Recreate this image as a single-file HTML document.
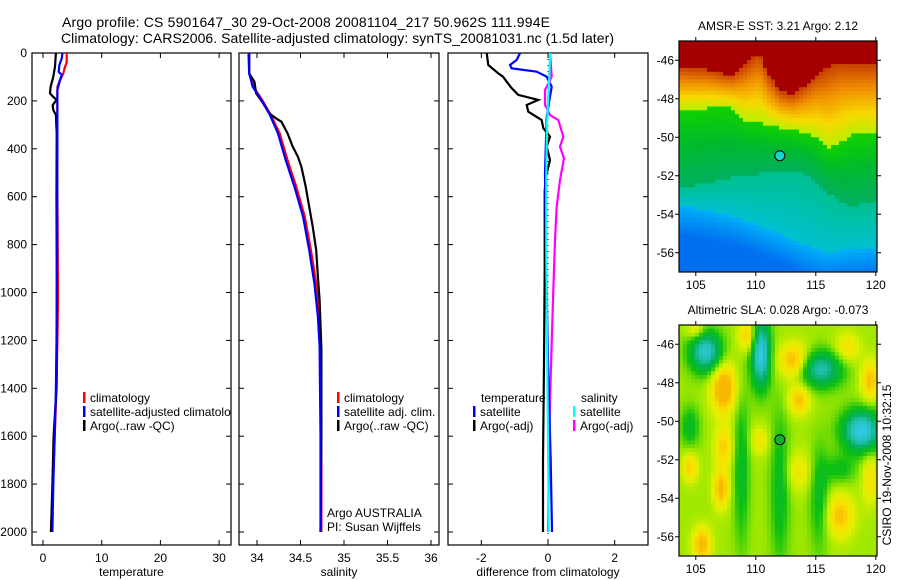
<!DOCTYPE html>
<html><head><meta charset="utf-8"><title>Argo profile</title>
<style>
html,body{margin:0;padding:0;background:#fff;}
svg{display:block;font-family:"Liberation Sans",Arial,sans-serif;}
</style></head>
<body>
<svg id="fig" width="900" height="580" viewBox="0 0 900 580" xmlns="http://www.w3.org/2000/svg">
<rect x="0" y="0" width="900" height="580" fill="#fff"/>
<text x="62" y="27" font-size="14" textLength="488">Argo profile: CS 5901647_30 29-Oct-2008 20081104_217 50.962S 111.994E</text>
<text x="61" y="43" font-size="14" textLength="553">Climatology: CARS2006. Satellite-adjusted climatology: synTS_20081031.nc (1.5d later)</text>
<g id="layer"></g>
</svg>
<script>
// ---------- DATA ----------
const tClimDepth = [0,40,57,85,113,141,200,400,800,1031,1200,1400,1600,1800,2000];
const tClimVal   = [4.03,4.03,3.75,3.46,2.9,2.45,2.45,2.4,2.5,2.55,2.45,2.3,2.0,1.7,1.35];
const tSatDepth  = [0,22,50,78,92,113,155,400,800,1200,1400,1600,1800,2000];
const tSatVal    = [3.3,3.2,2.8,2.67,3.2,2.9,2.45,2.45,2.4,2.3,2.2,2.0,1.75,1.6];
const tArgoDepth = [0,57,99,141,168,181,196,217,238,259,335,600,1000,1400,1600,1800,2000];
const tArgoVal   = [2.2,2.05,1.75,1.3,1.2,1.65,2.33,1.65,1.75,2.2,2.33,2.3,2.35,2.3,1.8,1.6,1.36];
const sArgoDepth = [0,85,120,168,210,252,273,287,335,391,433,475,558,642,725,823,934,1031,1240,1600,2000];
const sArgoVal   = [33.91,33.91,33.97,33.99,34.07,34.14,34.22,34.28,34.35,34.41,34.47,34.51,34.56,34.60,34.64,34.68,34.70,34.72,34.74,34.74,34.73];
const sSatDepth  = [0,85,141,196,252,335,447,558,684,823,962,1101,1226,1600,2000];
const sSatVal    = [33.91,33.91,33.95,34.05,34.14,34.24,34.33,34.43,34.53,34.60,34.66,34.70,34.72,34.73,34.73];
const sClimDepth = [0,85,141,196,252,335,447,558,684,823,962,1101,1226,1600,2000];
const sClimVal   = [33.90,33.91,33.96,34.06,34.15,34.26,34.35,34.45,34.55,34.62,34.68,34.71,34.73,34.74,34.74];
const dTArgoDepth = [0,50,85,99,120,147,175,196,217,245,280,314,349,391,447,503,573,900,1300,1700,2000];
const dTArgoVal   = [-1.84,-1.79,-1.49,-1.35,-1.24,-1.09,-0.89,-0.29,-0.64,-0.59,-0.19,-0.14,0.06,-0.04,0.06,-0.04,-0.1,-0.1,-0.12,-0.15,-0.15];
const dTSatDepth  = [0,29,50,64,78,99,141,182,266,503,900,1300,1700,2000];
const dTSatVal    = [-0.84,-0.94,-1.14,-1.09,-0.34,-0.04,0.11,0.06,-0.04,-0.09,-0.05,0.0,0.08,0.12];
const dSArgoDepth = [0,99,155,217,259,280,349,391,440,530,642,781,1031,1449,1800,2000];
const dSArgoVal   = [0.06,0.11,-0.09,-0.09,0.06,0.31,0.46,0.36,0.48,0.36,0.26,0.21,0.15,0.06,0.02,0.0];
const dSSatDepth  = [0,100,200,300,500,800,1200,1600,2000];
const dSSatVal    = [0.06,0.04,0.0,-0.03,-0.05,-0.05,-0.03,0.0,0.02];
const depthTicks = [0,200,400,600,800,1000,1200,1400,1600,1800,2000];
const tempTicks = [0,10,20,30];
const salTicks = [34,34.5,35,35.5,36];
const salTickLabels = ["34","34.5","35","35.5","36"];
const diffTicks = [-2,0,2];
const frontLon   = [104,106,108,109,110.3,111,112,113,114,115,116,117,118,120];
const redFront   = [46.4,46.5,46.8,46.3,45.6,46.7,47.6,47.8,47.4,46.8,46.4,46.1,46.2,46.2];
const greenFront = [48.6,48.5,48.5,49.1,49.2,49.4,49.5,49.6,49.8,50.0,50.6,50.3,49.9,49.8];
const tealFront  = [52.6,52.4,52.1,52.0,51.9,51.8,51.8,51.8,51.9,52.3,52.9,53.3,53.6,53.3];
const blueFront  = [53.6,53.8,54.1,54.3,54.6,54.8,55.0,55.3,55.6,55.8,56.0,55.9,55.8,55.7];
const blobLon = [105.8,110.4,115.3,118.8,108.8,112,115.3,104.5,117,107.3,113.2,109.3,113.6,107.3,107.1,105.5,117,104.5,119.5,117.6,110.3,113.6,119.5,105];
const blobLat = [46.4,46.5,47.3,50.5,52.5,53.5,54,50.3,52.5,48.3,46.9,45.6,48.9,51.3,53.5,56.4,54.9,52.4,47.9,46.2,51,52.6,53,45.3];
const blobRx  = [1,0.6,1.4,1.2,0.5,0.6,0.6,0.6,1,0.8,1,0.6,0.7,0.6,0.5,0.6,0.9,0.5,0.6,0.8,0.6,0.8,0.5,0.6];
const blobRy  = [0.8,1.3,0.7,0.8,3,3,2,0.8,0.6,1,0.7,0.6,0.6,0.8,0.8,0.7,0.9,0.6,0.8,0.6,0.6,0.8,1,0.4];
const blobAmp = [-1.4,-1.6,-1.2,-1.6,-0.5,-0.5,-0.5,-0.5,-0.4,1.0,0.9,0.7,0.7,0.6,0.8,0.8,0.7,0.6,0.7,0.5,0.4,0.4,0.5,0.5];
const argoLon = 112.0, argoLat = 50.96;
const mapLonTicks = [105,110,115,120];
const mapLatTicks = [46,48,50,52,54,56];

// ---------- HELPERS ----------
const NS="http://www.w3.org/2000/svg";
const layer=document.getElementById('layer');
function mk(tag,attrs,parent){const e=document.createElementNS(NS,tag);for(const k in attrs)e.setAttribute(k,attrs[k]);(parent||layer).appendChild(e);return e;}
const Y0=53, YB=545, ys=d=>Y0+d*0.2395;
const xT=t=>43+t*5.87, xS=s=>257+(s-34)*87, xD=v=>548+v*33.333;

function panel(name,x0,x1,xticks,xlabels,xf,xtitle,showY){
  const g=mk('g',{});
  
  
  const st={stroke:'#000','stroke-width':1};
  depthTicks.forEach(d=>{const y=ys(d);
    mk('line',Object.assign({x1:x0,x2:x0+5,y1:y,y2:y},st),g);
    mk('line',Object.assign({x1:x1-5,x2:x1,y1:y,y2:y},st),g);
    if(showY){const t=mk('text',{x:x0-5,y:y+4,'font-size':12,'text-anchor':'end'},g);t.textContent=d;
      
      }
  });
  xticks.forEach((v,i)=>{const x=xf(v);
    mk('line',Object.assign({x1:x,x2:x,y1:Y0,y2:Y0+5},st),g);
    mk('line',Object.assign({x1:x,x2:x,y1:YB-5,y2:YB},st),g);
    const t=mk('text',{x:x,y:562,'font-size':12,'text-anchor':'middle'},g);t.textContent=xlabels[i];
    
    
  });
  const r=mk('rect',{x:x0,y:Y0,width:x1-x0,height:YB-Y0,fill:'none',stroke:'#000','stroke-width':1.2},g);
  
  
  const t=mk('text',{x:(x0+x1)/2,y:576,'font-size':12,'text-anchor':'middle'},g);t.textContent=xtitle;
  
  
  return g;
}
function clip(id,x0,x1){const c=mk('clipPath',{id:id});mk('rect',{x:x0,y:Y0,width:x1-x0,height:YB-Y0},c);}
function series(name,depths,vals,xf,color,clipId){
  const pts=depths.map((d,i)=>xf(vals[i]).toFixed(1)+','+ys(d).toFixed(1)).join(' ');
  const p=mk('polyline',{points:pts,fill:'none',stroke:color,'stroke-width':2.2,'stroke-linejoin':'miter','clip-path':'url(#'+clipId+')'});
  
  
}
function legendRow(name,x,y,color,label,clipId){
  const g=mk('g',clipId?{'clip-path':'url(#'+clipId+')'}:{});
  
  
  if(color) mk('rect',{x:x,y:y-10,width:2.5,height:11,fill:color},g);
  const t=mk('text',{x:x+7,y:y,'font-size':12},g);t.textContent=label;
}

clip('c1',32,231);clip('c2',239,439);clip('c3',448,648);
panel('temperature-panel',32,231,tempTicks,tempTicks.map(String),xT,'temperature',true);
panel('salinity-panel',239,439,salTicks,salTickLabels,xS,'salinity',false);
panel('difference-panel',448,648,diffTicks,diffTicks.map(String),xD,'difference from climatology',false);

series('temp-climatology-line',tClimDepth,tClimVal,xT,'#ff0000','c1');
series('temp-argo-line',tArgoDepth,tArgoVal,xT,'#000','c1');
series('temp-satellite-line',tSatDepth,tSatVal,xT,'#0000ff','c1');
series('sal-climatology-line',sClimDepth,sClimVal,xS,'#ff0000','c2');
series('sal-argo-line',sArgoDepth,sArgoVal,xS,'#000','c2');
series('sal-satellite-line',sSatDepth,sSatVal,xS,'#0000ff','c2');
const zl=mk('line',{x1:xD(0),x2:xD(0),y1:Y0,y2:YB,stroke:'#000','stroke-width':1,'stroke-dasharray':'1,5'});


series('diff-sal-argo-line',dSArgoDepth,dSArgoVal,xD,'#ff00ff','c3');
series('diff-temp-argo-line',dTArgoDepth,dTArgoVal,xD,'#000','c3');
series('diff-temp-satellite-line',dTSatDepth,dTSatVal,xD,'#0000ff','c3');
series('diff-sal-satellite-line',dSSatDepth,dSSatVal,xD,'#00ffff','c3');

legendRow('legend-climatology',83,402,'#ff0000','climatology','c1');
legendRow('legend-satellite-adjusted',83,416,'#0000ff','satellite-adjusted climatology','c1');
legendRow('legend-argo',83,430,'#000','Argo(..raw -QC)','c1');
legendRow('legend-sal-climatology',337,402,'#ff0000','climatology');
legendRow('legend-sal-satellite',337,416,'#0000ff','satellite adj. clim.');
legendRow('legend-sal-argo',337,430,'#000','Argo(..raw -QC)');
legendRow('legend-temperature-header',474,402,null,'temperature');
legendRow('legend-diff-temp-satellite',473,416,'#0000ff','satellite');
legendRow('legend-diff-temp-argo',473,430,'#000','Argo(-adj)');
legendRow('legend-salinity-header',574,402,null,'salinity');
legendRow('legend-diff-sal-satellite',573,416,'#00ffff','satellite');
legendRow('legend-diff-sal-argo',573,430,'#ff00ff','Argo(-adj)');
legendRow('argo-australia-label',320,517,null,'Argo AUSTRALIA');
legendRow('pi-label',320,531,null,'PI: Susan Wijffels');

// ---------- MAPS ----------
function hex(c){return [parseInt(c.substr(1,2),16),parseInt(c.substr(3,2),16),parseInt(c.substr(5,2),16)];}
function grad(stops,f){
  if(f<=stops[0][0])return stops[0][1];
  for(let i=1;i<stops.length;i++){if(f<=stops[i][0]){const a=stops[i-1],b=stops[i];const u=(f-a[0])/(b[0]-a[0]);
    const ca=hex(a[1]),cb=hex(b[1]);return 'rgb('+ca.map((v,k)=>Math.round(v+(cb[k]-v)*u)).join(',')+')';}}
  return stops[stops.length-1][1];
}
function interp(xs,vs,x){if(x<=xs[0])return vs[0];for(let i=1;i<xs.length;i++){if(x<=xs[i]){const u=(x-xs[i-1])/(xs[i]-xs[i-1]);return vs[i-1]+u*(vs[i]-vs[i-1]);}}return vs[vs.length-1];}
const MX0=679,MX1=877,LON0=103.6,LON1=120.1;
const mx=lon=>MX0+(lon-LON0)*12;
function mapFrame(name,top,bottom,title,colorFn,markerFill){
  const lat0=45, lat1=57; const my=lat=>top+(lat-lat0)*(bottom-top)/(lat1-lat0);
  const g=mk('g',{});
  
  
  const dl=1/3, dt=0.2;
  for(let lon=LON0;lon<LON1-1e-6;lon+=dl){for(let lat=lat0;lat<lat1-1e-6;lat+=dt){
    mk('rect',{x:mx(lon).toFixed(2),y:my(lat).toFixed(2),width:Math.min(4.3,MX1-mx(lon)).toFixed(2),height:(dt*(bottom-top)/12+0.4).toFixed(2),fill:colorFn(lon+dl/2,lat+dt/2)},g);
  }}
  mk('rect',{x:MX0,y:top,width:MX1-MX0,height:bottom-top,fill:'none',stroke:'#000','stroke-width':1.2},g);
  const st={stroke:'#000','stroke-width':1};
  mapLonTicks.forEach(l=>{const x=mx(l);mk('line',Object.assign({x1:x,x2:x,y1:bottom,y2:bottom+4},st),g);mk('line',Object.assign({x1:x,x2:x,y1:top-4,y2:top},st),g);
    const t=mk('text',{x:x,y:bottom+17,'font-size':12,'text-anchor':'middle'},g);t.textContent=l;
    
    });
  mapLatTicks.forEach(l=>{const y=my(l);mk('line',Object.assign({x1:MX0-4,x2:MX0,y1:y,y2:y},st),g);mk('line',Object.assign({x1:MX1,x2:MX1+4,y1:y,y2:y},st),g);
    const t=mk('text',{x:MX0-5,y:y+4,'font-size':12,'text-anchor':'end'},g);t.textContent='-'+l;
    
    });
  const c=mk('circle',{cx:mx(argoLon),cy:my(argoLat),r:5,fill:markerFill,stroke:'#000','stroke-width':1},g);
  
  
  const t=mk('text',{x:(MX0+MX1)/2,y:top-11,'font-size':12,'text-anchor':'middle'},g);t.textContent=title;
  
  
}
function sstColor(lon,lat){
  const r=interp(frontLon,redFront,lon),g=interp(frontLon,greenFront,lon),t=interp(frontLon,tealFront,lon),b=interp(frontLon,blueFront,lon);
  if(lat<r)return '#a50000';
  if(lat<g)return grad([[0,'#c84000'],[0.35,'#f09000'],[0.7,'#f8d800'],[1,'#b8f000']],(lat-r)/(g-r));
  if(lat<t)return grad([[0,'#10d000'],[0.5,'#00b830'],[1,'#00b060']],(lat-g)/(t-g));
  if(lat<b)return grad([[0,'#00c090'],[1,'#00c0d0']],(lat-t)/(b-t));
  return grad([[0,'#00b0f8'],[1,'#0070f0']],(lat-b)/1.5);
}
function slaColor(lon,lat){
  let v=0.35;
  for(let i=0;i<blobLon.length;i++){const a=(lon-blobLon[i])/(blobRx[i]*1.3),b=(lat-blobLat[i])/(blobRy[i]*1.3);v+=blobAmp[i]*Math.exp(-(a*a+b*b));}
  return grad([[-1.2,'#30c8e0'],[-0.8,'#20c0b0'],[-0.4,'#00b050'],[0,'#10c010'],[0.35,'#a0e800'],[0.6,'#e0f000'],[0.85,'#f8e000'],[1.1,'#f8b800']],v);
}
mapFrame('sst-map',41,272,'AMSR-E SST: 3.21 Argo: 2.12',sstColor,'#20d0d0');
mapFrame('sla-map',325,556,'Altimetric SLA: 0.028 Argo: -0.073',slaColor,'#10b030');
const vt=mk('text',{x:0,y:0,'font-size':12,'text-anchor':'middle',transform:'translate(891,465) rotate(-90)'});
vt.textContent='CSIRO 19-Nov-2008 10:32:15';


</script>
</body></html>
